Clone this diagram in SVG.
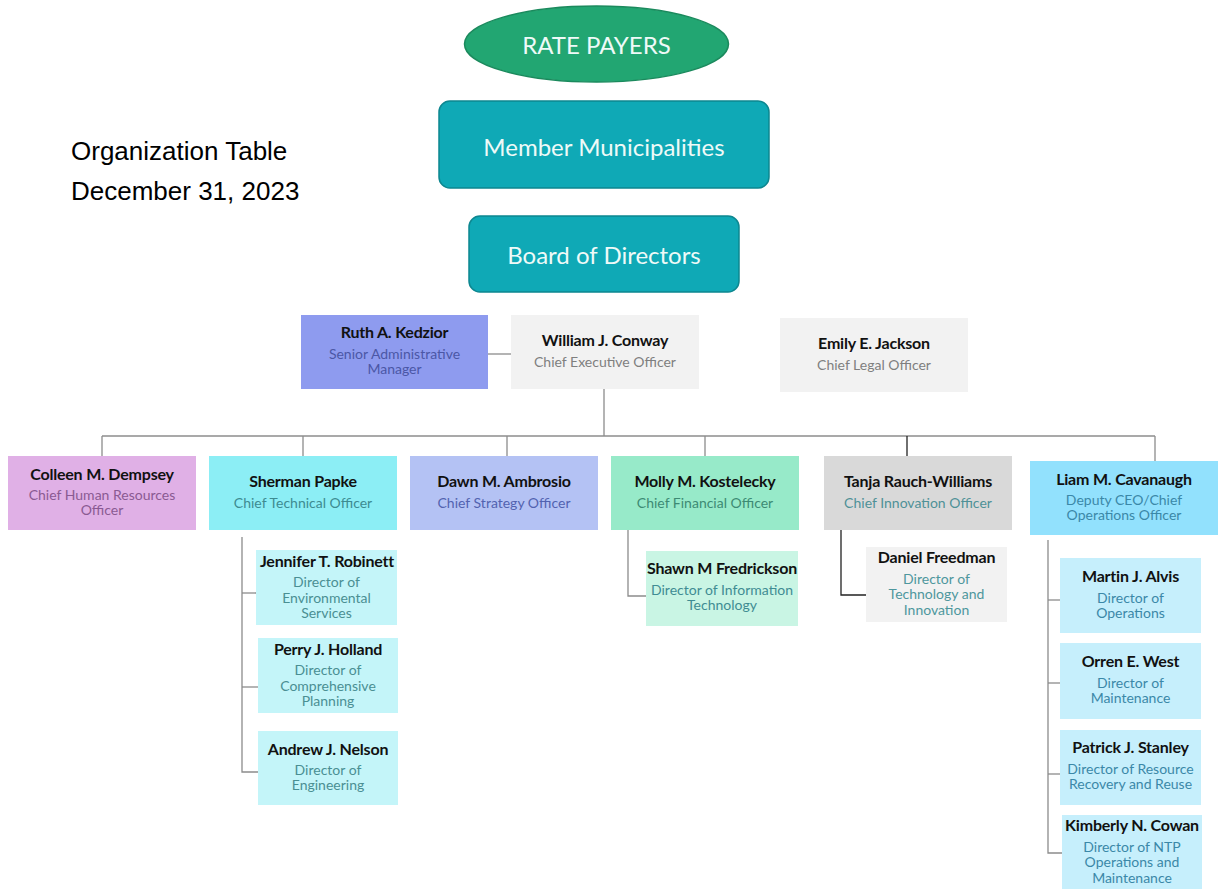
<svg xmlns="http://www.w3.org/2000/svg" width="1219" height="890" viewBox="0 0 1219 890">
<style>
.nm{font-family:Lato,"Noto Sans",sans-serif;font-weight:bold;font-size:16px;fill:#111;text-anchor:middle;letter-spacing:-0.2px}
.sb{font-family:Lato,"Noto Sans",sans-serif;font-size:14px;text-anchor:middle}
.top{font-family:Lato,"Noto Sans",sans-serif;font-size:24px;fill:#eefaf8;text-anchor:middle}
.ln{stroke:#8c8c8c;stroke-width:1.3;fill:none}
.dk{stroke:#222;stroke-width:1.3;fill:none}
.hdr{font-family:"Liberation Sans",Arial,sans-serif;font-size:26px;fill:#000}
</style>
<rect width="1219" height="890" fill="#fff"/>
<text class="hdr" x="71" y="160">Organization Table</text>
<text class="hdr" x="71" y="200">December 31, 2023</text>

<g id="connectors">
<line class="ln" x1="488" y1="354" x2="511" y2="354"/>
<line class="ln" x1="604" y1="389" x2="604" y2="436"/>
<line class="ln" x1="102" y1="436" x2="1155" y2="436"/>
<line class="ln" x1="102" y1="436" x2="102" y2="456"/>
<line class="ln" x1="303" y1="436" x2="303" y2="456"/>
<line class="ln" x1="507" y1="436" x2="507" y2="456"/>
<line class="ln" x1="705" y1="436" x2="705" y2="456"/>
<line class="dk" x1="907" y1="436" x2="907" y2="456"/>
<line class="ln" x1="1155" y1="436" x2="1155" y2="461"/>
<polyline class="ln" points="242,537 242,772 258,772"/>
<line class="ln" x1="242" y1="593" x2="256" y2="593"/>
<line class="ln" x1="242" y1="687" x2="258" y2="687"/>
<polyline class="ln" points="628,530 628,596 646,596"/>
<polyline class="dk" points="841,530 841,595 866,595"/>
<polyline class="ln" points="1048,540 1048,853 1062,853"/>
<line class="ln" x1="1048" y1="600" x2="1060" y2="600"/>
<line class="ln" x1="1048" y1="683" x2="1060" y2="683"/>
<line class="ln" x1="1048" y1="774" x2="1060" y2="774"/>
</g>

<g id="rate-payers">
<ellipse cx="596.5" cy="44" rx="132" ry="38" fill="#22A672" stroke="#1b8a5d" stroke-width="1.5"/>
<text class="top" x="596.5" y="44" dominant-baseline="central" font-size="23">RATE PAYERS</text>
</g>
<g id="member-municipalities">
<rect x="439" y="101" width="330" height="87" rx="11" fill="#0FA9B6" stroke="#0d8790" stroke-width="1.5"/>
<text class="top" x="604" y="146" dominant-baseline="central">Member Municipalities</text>
</g>
<g id="board">
<rect x="469" y="216" width="270" height="76" rx="11" fill="#0FA9B6" stroke="#0d8790" stroke-width="1.5"/>
<text class="top" x="604" y="254" dominant-baseline="central">Board of Directors</text>
</g>

<g id="ruth">
<rect x="301" y="315" width="187" height="74" fill="#8E9BEF"/>
<text class="nm" x="394.5" y="331" dominant-baseline="central">Ruth A. Kedzior</text>
<text class="sb" fill="#4b57a6" x="394.5" y="353" dominant-baseline="central">Senior Administrative</text>
<text class="sb" fill="#4b57a6" x="394.5" y="368" dominant-baseline="central">Manager</text>
</g>
<g id="william">
<rect x="511" y="315" width="188" height="74" fill="#F2F2F2"/>
<text class="nm" x="605" y="339" dominant-baseline="central">William J. Conway</text>
<text class="sb" fill="#7f7f7f" x="605" y="361" dominant-baseline="central">Chief Executive Officer</text>
</g>
<g id="emily">
<rect x="780" y="318" width="188" height="74" fill="#F2F2F2"/>
<text class="nm" x="874" y="342" dominant-baseline="central">Emily E. Jackson</text>
<text class="sb" fill="#7f7f7f" x="874" y="364" dominant-baseline="central">Chief Legal Officer</text>
</g>

<g id="colleen">
<rect x="8" y="456" width="188" height="74" fill="#E0B0E6"/>
<text class="nm" x="102" y="473" dominant-baseline="central">Colleen M. Dempsey</text>
<text class="sb" fill="#8a5a92" x="102" y="494" dominant-baseline="central">Chief Human Resources</text>
<text class="sb" fill="#8a5a92" x="102" y="509" dominant-baseline="central">Officer</text>
</g>
<g id="sherman">
<rect x="209" y="456" width="188" height="74" fill="#8CEEF5"/>
<text class="nm" x="303" y="480" dominant-baseline="central">Sherman Papke</text>
<text class="sb" fill="#3d8b91" x="303" y="502" dominant-baseline="central">Chief Technical Officer</text>
</g>
<g id="dawn">
<rect x="410" y="456" width="188" height="74" fill="#B4C2F4"/>
<text class="nm" x="504" y="480" dominant-baseline="central">Dawn M. Ambrosio</text>
<text class="sb" fill="#5262b0" x="504" y="502" dominant-baseline="central">Chief Strategy Officer</text>
</g>
<g id="molly">
<rect x="611" y="456" width="188" height="74" fill="#97EAC9"/>
<text class="nm" x="705" y="480" dominant-baseline="central">Molly M. Kostelecky</text>
<text class="sb" fill="#3d8a74" x="705" y="502" dominant-baseline="central">Chief Financial Officer</text>
</g>
<g id="tanja">
<rect x="824" y="456" width="188" height="74" fill="#D9D9D9"/>
<text class="nm" x="918" y="480" dominant-baseline="central">Tanja Rauch-Williams</text>
<text class="sb" fill="#4f9197" x="918" y="502" dominant-baseline="central">Chief Innovation Officer</text>
</g>
<g id="liam">
<rect x="1030" y="461" width="188" height="74" fill="#92E1FD"/>
<text class="nm" x="1124" y="478" dominant-baseline="central">Liam M. Cavanaugh</text>
<text class="sb" fill="#3b88a8" x="1124" y="499" dominant-baseline="central">Deputy CEO/Chief</text>
<text class="sb" fill="#3b88a8" x="1124" y="514" dominant-baseline="central">Operations Officer</text>
</g>

<g id="jennifer">
<rect x="256" y="550" width="141" height="75" fill="#C4F5F9"/>
<text class="nm" x="327" y="560" dominant-baseline="central">Jennifer T. Robinett</text>
<text class="sb" fill="#4a8f93" x="326.5" y="581" dominant-baseline="central">Director of</text>
<text class="sb" fill="#4a8f93" x="326.5" y="597" dominant-baseline="central">Environmental</text>
<text class="sb" fill="#4a8f93" x="326.5" y="612" dominant-baseline="central">Services</text>
</g>
<g id="perry">
<rect x="258" y="638" width="140" height="75" fill="#C4F5F9"/>
<text class="nm" x="328" y="648" dominant-baseline="central">Perry J. Holland</text>
<text class="sb" fill="#4a8f93" x="328" y="669" dominant-baseline="central">Director of</text>
<text class="sb" fill="#4a8f93" x="328" y="685" dominant-baseline="central">Comprehensive</text>
<text class="sb" fill="#4a8f93" x="328" y="700" dominant-baseline="central">Planning</text>
</g>
<g id="andrew">
<rect x="258" y="731" width="140" height="74" fill="#C4F5F9"/>
<text class="nm" x="328" y="748" dominant-baseline="central">Andrew J. Nelson</text>
<text class="sb" fill="#4a8f93" x="328" y="769" dominant-baseline="central">Director of</text>
<text class="sb" fill="#4a8f93" x="328" y="784" dominant-baseline="central">Engineering</text>
</g>
<g id="shawn">
<rect x="646" y="551" width="152" height="75" fill="#C9F5E4"/>
<text class="nm" x="722" y="567" dominant-baseline="central">Shawn M Fredrickson</text>
<text class="sb" fill="#3f8c93" x="722" y="589" dominant-baseline="central">Director of Information</text>
<text class="sb" fill="#3f8c93" x="722" y="604" dominant-baseline="central">Technology</text>
</g>
<g id="daniel">
<rect x="866" y="547" width="141" height="75" fill="#F2F2F2"/>
<text class="nm" x="936.5" y="556" dominant-baseline="central">Daniel Freedman</text>
<text class="sb" fill="#4e979d" x="936.5" y="578" dominant-baseline="central">Director of</text>
<text class="sb" fill="#4e979d" x="936.5" y="593" dominant-baseline="central">Technology and</text>
<text class="sb" fill="#4e979d" x="936.5" y="609" dominant-baseline="central">Innovation</text>
</g>
<g id="martin">
<rect x="1060" y="558" width="141" height="75" fill="#C6EFFC"/>
<text class="nm" x="1130.5" y="575" dominant-baseline="central">Martin J. Alvis</text>
<text class="sb" fill="#3b88a8" x="1130.5" y="597" dominant-baseline="central">Director of</text>
<text class="sb" fill="#3b88a8" x="1130.5" y="612" dominant-baseline="central">Operations</text>
</g>
<g id="orren">
<rect x="1060" y="643" width="141" height="76" fill="#C6EFFC"/>
<text class="nm" x="1130.5" y="660" dominant-baseline="central">Orren E. West</text>
<text class="sb" fill="#3b88a8" x="1130.5" y="682" dominant-baseline="central">Director of</text>
<text class="sb" fill="#3b88a8" x="1130.5" y="697" dominant-baseline="central">Maintenance</text>
</g>
<g id="patrick">
<rect x="1060" y="730" width="141" height="75" fill="#C6EFFC"/>
<text class="nm" x="1130.5" y="746" dominant-baseline="central">Patrick J. Stanley</text>
<text class="sb" fill="#3b88a8" x="1130.5" y="768" dominant-baseline="central">Director of Resource</text>
<text class="sb" fill="#3b88a8" x="1130.5" y="783" dominant-baseline="central">Recovery and Reuse</text>
</g>
<g id="kimberly">
<rect x="1062" y="815" width="140" height="74" fill="#C6EFFC"/>
<text class="nm" x="1132" y="824" dominant-baseline="central">Kimberly N. Cowan</text>
<text class="sb" fill="#3b88a8" x="1132" y="846" dominant-baseline="central">Director of NTP</text>
<text class="sb" fill="#3b88a8" x="1132" y="861" dominant-baseline="central">Operations and</text>
<text class="sb" fill="#3b88a8" x="1132" y="877" dominant-baseline="central">Maintenance</text>
</g>
</svg>
